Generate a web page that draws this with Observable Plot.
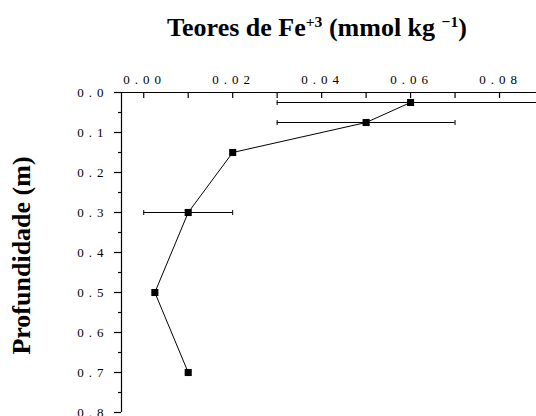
<!DOCTYPE html>
<html>
<head>
<meta charset="utf-8">
<script src="https://cdn.jsdelivr.net/npm/d3@7"></script>
<script src="https://cdn.jsdelivr.net/npm/@observablehq/plot@0.6"></script>
<style>
  html, body { margin: 0; padding: 0; background: #fff; }
  #wrap { width: 536px; height: 416px; position: relative; overflow: hidden; }
  #title {
    height: 55px; width: 536px; box-sizing: border-box; padding-left: 98px;
    text-align: center; font-family: "Liberation Serif", "Times New Roman", serif;
    font-weight: bold; font-size: 26px; line-height: 25px; padding-top: 15px; color: #000;
  }
  #title sup { font-size: 0.6em; line-height: 0; vertical-align: 0.6em; }
  svg { display: block; overflow: hidden; }
  g[aria-label="x-axis tick label"], g[aria-label="y-axis tick label"] { letter-spacing: 5px; }
</style>
</head>
<body>
<div id="wrap">
  <div id="title">Teores de Fe<sup>+3</sup> (mmol kg <sup>&minus;1</sup>)</div>
  <div id="chart"></div>
</div>
<script>
// Fe+3 content (mmol/kg) by soil depth (m)
const depth   = [0.025, 0.075, 0.15, 0.30, 0.50, 0.70];
const fe3     = [0.060, 0.050, 0.020, 0.010, 0.0025, 0.010];
const fe3Err  = [0.030, 0.020, 0, 0.010, 0, 0];

// axis ticks
const xLabelTicks = [0, 0.02, 0.04, 0.06, 0.08];
const xTicks = [0, 0.01, 0.02, 0.03, 0.04, 0.05, 0.06, 0.07, 0.08];
const yMajorTicks = [0, 0.1, 0.2, 0.3, 0.4, 0.5, 0.6, 0.7, 0.8];
const yMinorTicks = [0.05, 0.15, 0.25, 0.35, 0.45, 0.55, 0.65, 0.75];

const rows = depth.map((d, i) => ({depth: d, fe: fe3[i], err: fe3Err[i]}));
const withErr = rows.filter(r => r.err > 0);

const serif = "Liberation Serif, Times New Roman, serif";
const capSymbol = {draw(ctx) { ctx.moveTo(0, -2.5); ctx.lineTo(0, 2.5); }};

const H = 361, MT = 37, MB = 4;
const plotH = H - MT - MB;

const chart = Plot.plot({
  width: 536,
  height: H,
  marginTop: MT,
  marginBottom: MB,
  marginLeft: 121,
  marginRight: 0,
  style: {fontFamily: serif, fontSize: "13px", color: "#000", background: "#fff"},
  x: {domain: [-0.005, 0.09], range: [121, 543.5], axis: null},
  y: {domain: [0, 0.8], range: [MT, MT + 320], axis: null},
  marks: [
    // x axis along the top, labels above, ticks pointing inward
    Plot.ruleY([0], {stroke: "#000", strokeWidth: 1.2}),
    Plot.tickX(xTicks, {x: d => d, stroke: "#000", strokeWidth: 1.2, insetBottom: plotH - 6}),
    Plot.axisX({anchor: "top", ticks: xLabelTicks, tickSize: 0, tickPadding: 9,
      tickFormat: d => d.toFixed(2), fontSize: 13, dx: 1, label: null}),
    // y axis on the left
    Plot.ruleX([-0.005], {stroke: "#000", strokeWidth: 1.2}),
    Plot.axisY({anchor: "left", ticks: yMajorTicks, tickSize: 7, tickPadding: 6,
      tickFormat: d => d.toFixed(1), fontSize: 13, strokeWidth: 1.2, label: null}),
    Plot.axisY({anchor: "left", ticks: yMinorTicks, tickSize: 3, tickFormat: () => "",
      strokeWidth: 1.2, label: null}),
    Plot.text(["Profundidade (m)"], {frameAnchor: "left", textAnchor: "middle", rotate: -90,
      dx: -100, dy: 3, fontSize: 26, fontWeight: "bold", fontFamily: serif, fill: "#000"}),
    // error bars
    Plot.ruleY(withErr, {y: "depth", x1: r => r.fe - r.err, x2: r => r.fe + r.err, stroke: "#000", strokeWidth: 1}),
    Plot.dot(withErr, {x: r => r.fe - r.err, y: "depth", symbol: capSymbol, stroke: "#000", strokeWidth: 1, r: 3}),
    Plot.dot(withErr, {x: r => r.fe + r.err, y: "depth", symbol: capSymbol, stroke: "#000", strokeWidth: 1, r: 3}),
    // profile line and markers
    Plot.line(rows, {x: "fe", y: "depth", stroke: "#000", strokeWidth: 1}),
    Plot.dot(rows, {x: "fe", y: "depth", symbol: "square", r: 4, fill: "#000", stroke: "none"})
  ]
});
document.getElementById("chart").appendChild(chart);
</script>
</body>
</html>
